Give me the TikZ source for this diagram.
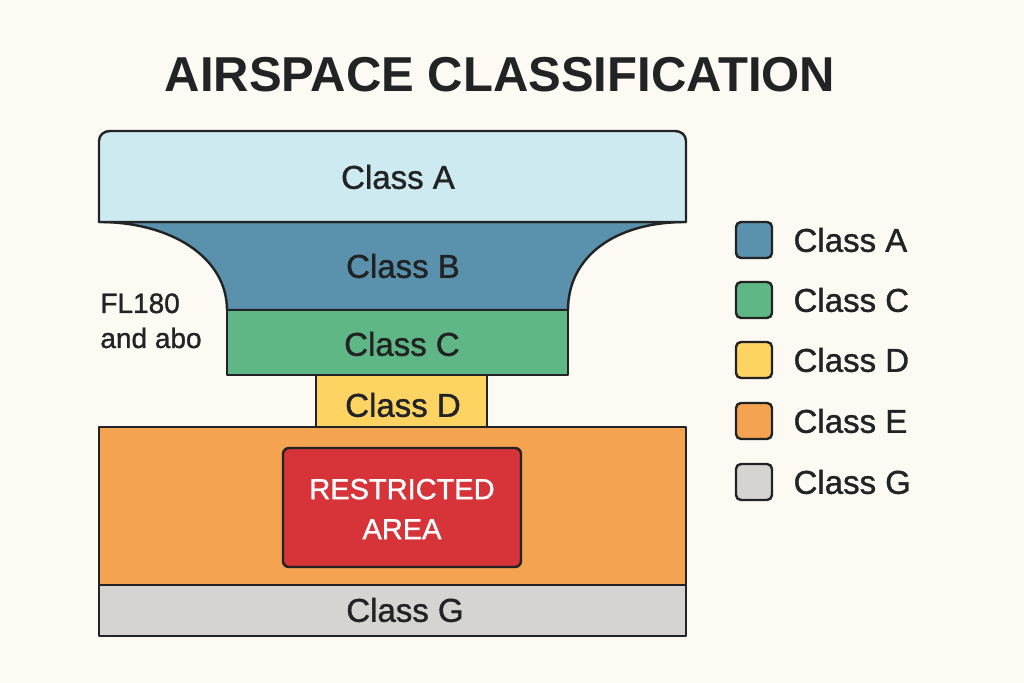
\documentclass[tikz,border=0pt]{standalone}
\usepackage{fontspec}
\setmainfont{Liberation Sans}
\newfontfamily\medfont[FakeBold=1.1]{Liberation Sans}
\usetikzlibrary{positioning}
\definecolor{paper}{HTML}{FCFAF3}
\definecolor{ink}{HTML}{222324}
\definecolor{skyA}{HTML}{CDEAF0}
\definecolor{steelB}{HTML}{5A91AD}
\definecolor{greenC}{HTML}{5FB785}
\definecolor{yellowD}{HTML}{FDD462}
\definecolor{orangeE}{HTML}{F4A350}
\definecolor{redR}{HTML}{D7343A}
\definecolor{grayG}{HTML}{D5D4D0}
\tikzset{layer/.style={draw=ink,line width=1.2pt,line join=round}, lbl/.style={text=ink,font=\medfont\fontsize{16.5}{20}\selectfont,inner sep=0pt}, keybox/.style={draw=ink,line width=1.2pt,rounded corners=2.5pt,minimum size=18pt,inner sep=0pt}, keytxt/.style={lbl,anchor=west}, side/.style={text=ink,font=\medfont\fontsize{14}{18}\selectfont,inner sep=0pt,anchor=base west}}

\begin{document}
\begin{tikzpicture}[x=0.5pt,y=-0.5pt]
\fill[paper] (0,0) rectangle (1024,683);
\useasboundingbox (0,0) rectangle (1024,683);
\node[text=ink,font=\fontsize{24.5}{28}\selectfont\bfseries,inner sep=0pt] (title) at (500,75) {AIRSPACE CLASSIFICATION};
% funnel of controlled airspace
\draw[layer,fill=steelB] (99,222) .. controls (172,222) and (227,258) .. (227,310) -- (568,310) .. controls (568,258) and (613,222) .. (686,222) -- cycle;
\draw[layer,fill=skyA] (99,222) -- (99,141) .. controls (99,135) and (104,131) .. (110,131) -- (675,131) .. controls (681,131) and (686,135) .. (686,141) -- (686,222) -- cycle;
\draw[layer,fill=greenC] (227,310) rectangle (568,375);
\draw[layer,fill=yellowD] (316,375) rectangle (487,427);
\draw[layer,fill=orangeE] (99,427) rectangle (686,585);
\draw[layer,fill=redR,rounded corners=3pt] (283,448) rectangle (521,567);
\draw[layer,fill=grayG] (99,585) rectangle (686,636);
\node[lbl] (labA) at (398,177) {Class A};
\node[lbl] (labB) at (403,266) {Class B};
\node[lbl] (labC) at (402,344) {Class C};
\node[lbl] (labD) at (403,405) {Class D};
\node[text=white,font=\medfont\fontsize{14.5}{20}\selectfont,align=center,inner sep=0pt] (restr) at (402,509) {RESTRICTED\\AREA};
\node[lbl] (labG) at (405,610) {Class G};
\node[side] (fl) at (100,313) {FL180};
\node[side] (abo) at (100,348) {and abo};
% legend
\node[keybox,fill=steelB] (keyA) at (754,240) {};
\node[keybox,fill=greenC] (keyC) at (754,300) {};
\node[keybox,fill=yellowD] (keyD) at (754,360) {};
\node[keybox,fill=orangeE] (keyE) at (754,421) {};
\node[keybox,fill=grayG] (keyG) at (754,482) {};
\node[keytxt,right=10pt of keyA] (txtA) {Class A};
\node[keytxt,right=10pt of keyC] (txtC) {Class C};
\node[keytxt,right=10pt of keyD] (txtD) {Class D};
\node[keytxt,right=10pt of keyE] (txtE) {Class E};
\node[keytxt,right=10pt of keyG] (txtG) {Class G};
\end{tikzpicture}
\end{document}
